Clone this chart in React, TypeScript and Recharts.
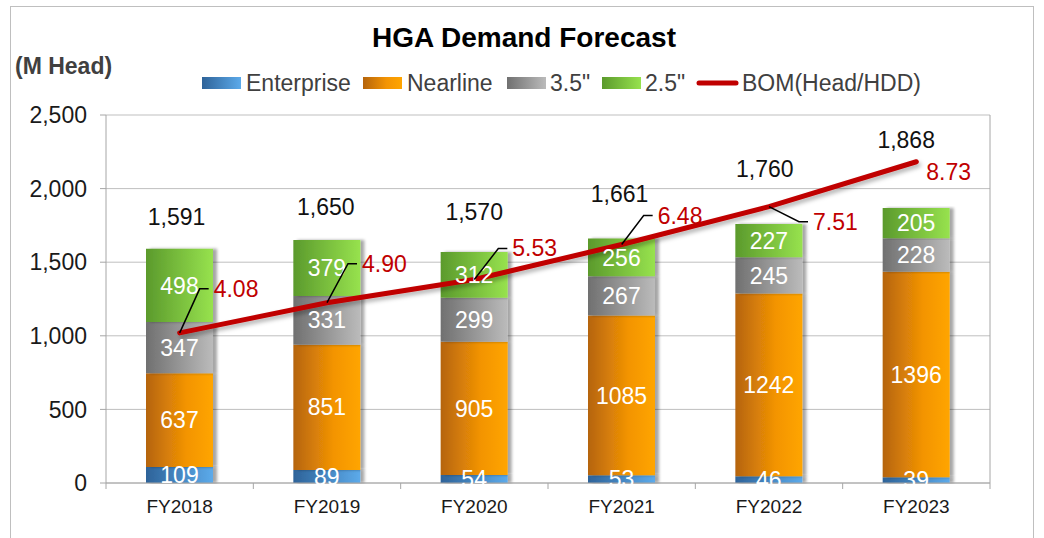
import { Bar, CartesianGrid, ComposedChart, LabelList, Line, XAxis, YAxis } from "recharts";

const years = ["FY2018", "FY2019", "FY2020", "FY2021", "FY2022", "FY2023"];
const enterprise = [109, 89, 54, 53, 46, 39];
const nearline = [637, 851, 905, 1085, 1242, 1396];
const hdd35 = [347, 331, 299, 267, 245, 228];
const hdd25 = [498, 379, 312, 256, 227, 205];
const totals = [1591, 1650, 1570, 1661, 1760, 1868];
const bom = [4.08, 4.9, 5.53, 6.48, 7.51, 8.73];
const yTicks = [0, 500, 1000, 1500, 2000, 2500];

const data = years.map((year, i) => ({
  year,
  enterprise: enterprise[i],
  nearline: nearline[i],
  hdd35: hdd35[i],
  hdd25: hdd25[i],
  total: totals[i],
  bom: bom[i],
}));

// label placement (Excel labels were dragged by hand)
const totalLift = [32, 33, 40, 45, 55, 68];
const totalShift = [-3, -1, 0, -2, -4, -10];
const bomKnees: ([number, number] | null)[] = [[20, -44], [21, -39], [24, -31], [22, -29], [30, 15], null];

const W = 1044;
const H = 538;
const PLOT_LEFT = 106;
const PLOT_RIGHT = 990;
const BAND = (PLOT_RIGHT - PLOT_LEFT) / years.length;
const FONT = "'Liberation Sans', Arial, sans-serif";
const AXIS = "#A6A6A6";

const fmt = (v: number) => v.toLocaleString("en-US");

function XTick(props: any) {
  const { x, y, payload, index } = props;
  return (
    <g>
      <line x1={x - BAND / 2} x2={x - BAND / 2} y1={y} y2={y + 6} stroke={AXIS} />
      {index === years.length - 1 && <line x1={x + BAND / 2} x2={x + BAND / 2} y1={y} y2={y + 6} stroke={AXIS} />}
      <text x={x} y={y + 23} textAnchor="middle" dominantBaseline="central" fontSize={19} fill="#1a1a1a">
        {payload.value}
      </text>
    </g>
  );
}

function TotalLabel(props: any) {
  const { x, y, width, index } = props;
  return (
    <text
      x={x + width / 2 + totalShift[index]}
      y={y - totalLift[index]}
      textAnchor="middle"
      dominantBaseline="central"
      fontSize={23}
      fill="#111"
    >
      {fmt(totals[index])}
    </text>
  );
}

function BomLabel(props: any) {
  const { x, y, value, index } = props;
  const knee = bomKnees[index];
  if (!knee) {
    return (
      <text x={x + 10} y={y + 10} dominantBaseline="central" fontSize={23} fill="#C00000">
        {Number(value).toFixed(2)}
      </text>
    );
  }
  const [kx, ky] = knee;
  return (
    <g>
      <polyline
        points={`${x},${y} ${x + kx},${y + ky} ${x + kx + 9},${y + ky}`}
        fill="none"
        stroke="#000"
        strokeWidth={1.5}
      />
      <text x={x + kx + 14} y={y + ky} dominantBaseline="central" fontSize={23} fill="#C00000">
        {Number(value).toFixed(2)}
      </text>
    </g>
  );
}

const legendItems = [
  { label: "Enterprise", grad: "gEnt", x: 202, tx: 246 },
  { label: "Nearline", grad: "gNear", x: 363, tx: 407 },
  { label: '3.5"', grad: "g35", x: 507, tx: 550 },
  { label: '2.5"', grad: "g25", x: 602, tx: 645 },
];

export default function App() {
  return (
    <div style={{ position: "absolute", left: 0, top: 0, width: W, height: H, overflow: "hidden", background: "#fff", fontFamily: FONT }}>
      <style>{`
        .recharts-bar-rectangle path { filter: url(#barShadow); }
        .bom-line .recharts-line-curve { filter: url(#lineShadow); }
      `}</style>
      <svg width={0} height={0} style={{ position: "absolute" }}>
        <defs>
          <linearGradient id="gEnt" x1="0" y1="0" x2="1" y2="0">
            <stop offset="0" stopColor="#2E6399" />
            <stop offset="1" stopColor="#5CAAEA" />
          </linearGradient>
          <linearGradient id="gNear" x1="0" y1="0" x2="1" y2="0">
            <stop offset="0" stopColor="#B5640C" />
            <stop offset="0.6" stopColor="#F39404" />
            <stop offset="1" stopColor="#FFA500" />
          </linearGradient>
          <linearGradient id="g35" x1="0" y1="0" x2="1" y2="0">
            <stop offset="0" stopColor="#707070" />
            <stop offset="1" stopColor="#BBBBBB" />
          </linearGradient>
          <linearGradient id="g25" x1="0" y1="0" x2="1" y2="0">
            <stop offset="0" stopColor="#5B9A2C" />
            <stop offset="1" stopColor="#97E24E" />
          </linearGradient>
          <filter id="barShadow" x="-10%" y="-5%" width="130%" height="110%">
            <feDropShadow dx="4" dy="0" stdDeviation="1.5" floodColor="#000" floodOpacity="0.35" />
          </filter>
          <filter id="lineShadow" x="-5%" y="-20%" width="110%" height="160%">
            <feDropShadow dx="2" dy="3" stdDeviation="2" floodColor="#000" floodOpacity="0.3" />
          </filter>
        </defs>
      </svg>

      <div style={{ position: "absolute", left: 10, top: 6, width: 1022, height: 560, border: "1px solid #BFBFBF" }} />

      <ComposedChart
        width={W}
        height={H}
        data={data}
        margin={{ top: 115, right: 48, bottom: 15, left: 26 }}
        barSize={67}
        style={{ position: "absolute", left: 0, top: 0 }}
      >
        <CartesianGrid vertical={false} stroke="#BFBFBF" />
        <XAxis
          dataKey="year"
          height={40}
          tickLine={false}
          tickSize={0}
          tickMargin={0}
          axisLine={{ stroke: AXIS }}
          tick={<XTick />}
          interval={0}
        />
        <YAxis
          width={80}
          domain={[0, 2500]}
          ticks={yTicks}
          tickFormatter={fmt}
          tickSize={6}
          tickMargin={13}
          tickLine={{ stroke: AXIS }}
          axisLine={{ stroke: AXIS }}
          tick={{ fontSize: 23, fill: "#1a1a1a" }}
        />
        <YAxis
          yAxisId="bom"
          orientation="right"
          width={6}
          domain={[0, 10]}
          ticks={[0, 10]}
          tick={false}
          tickSize={6}
          tickLine={{ stroke: AXIS }}
          axisLine={{ stroke: AXIS }}
        />
        <Bar dataKey="enterprise" stackId="a" fill="url(#gEnt)" isAnimationActive={false}>
          <LabelList dataKey="enterprise" position="center" fill="#fff" fontSize={23} />
        </Bar>
        <Bar dataKey="nearline" stackId="a" fill="url(#gNear)" isAnimationActive={false}>
          <LabelList dataKey="nearline" position="center" fill="#fff" fontSize={23} />
        </Bar>
        <Bar dataKey="hdd35" stackId="a" fill="url(#g35)" isAnimationActive={false}>
          <LabelList dataKey="hdd35" position="center" fill="#fff" fontSize={23} />
        </Bar>
        <Bar dataKey="hdd25" stackId="a" fill="url(#g25)" isAnimationActive={false}>
          <LabelList dataKey="hdd25" position="center" fill="#fff" fontSize={23} />
          <LabelList dataKey="total" content={<TotalLabel />} />
        </Bar>
        <Line
          className="bom-line"
          yAxisId="bom"
          dataKey="bom"
          type="linear"
          stroke="#C00000"
          strokeWidth={5}
          strokeLinecap="round"
          dot={false}
          activeDot={false}
          isAnimationActive={false}
        >
          <LabelList dataKey="bom" content={<BomLabel />} />
        </Line>
      </ComposedChart>

      <svg width={W} height={H} style={{ position: "absolute", left: 0, top: 0, pointerEvents: "none" }}>
        <text x={524} y={47} textAnchor="middle" fontSize={28} fontWeight="bold" fill="#000">
          HGA Demand Forecast
        </text>
        <text x={15} y={74} fontSize={23} fontWeight="bold" fill="#404040">
          (M Head)
        </text>
        {legendItems.map((it) => (
          <g key={it.label}>
            <rect x={it.x} y={77} width={39} height={12} fill={`url(#${it.grad})`} />
            <text x={it.tx} y={91} fontSize={23} fill="#404040">
              {it.label}
            </text>
          </g>
        ))}
        <line x1={699} x2={736} y1={83} y2={83} stroke="#C00000" strokeWidth={5} strokeLinecap="round" />
        <text x={742} y={91} fontSize={23} fill="#404040">
          BOM(Head/HDD)
        </text>
      </svg>
    </div>
  );
}
